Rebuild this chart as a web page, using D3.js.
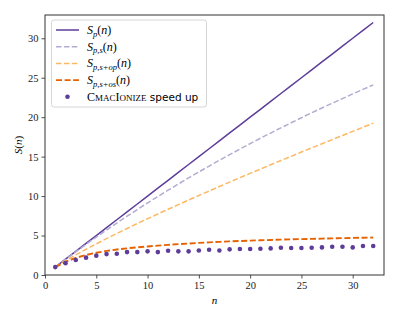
<!DOCTYPE html>
<html>
<head>
<meta charset="utf-8">
<script src="https://cdn.jsdelivr.net/npm/d3@7"></script>
<style>
body { margin: 0; background: #fff; }
text { font-family: "Liberation Serif", "DejaVu Serif", serif; }
</style>
</head>
<body>
<script>
var n = d3.range(1, 33);
var sp = n.slice();
var sps = [1, 1.98, 2.94, 3.88, 4.80, 5.70, 6.58, 7.45, 8.30, 9.13, 9.95, 10.75, 11.53, 12.30, 13.06, 13.81,
    14.54, 15.25, 15.96, 16.65, 17.33, 17.99, 18.65, 19.29, 19.93, 20.56, 21.17, 21.77, 22.36, 22.95, 23.52, 24.09];
var spsop = [1, 1.81, 2.55, 3.26, 3.95, 4.61, 5.26, 5.89, 6.52, 7.13, 7.73, 8.33, 8.92, 9.50, 10.07, 10.64,
    11.21, 11.77, 12.33, 12.88, 13.42, 13.97, 14.51, 15.04, 15.58, 16.11, 16.63, 17.16, 17.68, 18.20, 18.72, 19.23];
var spsos = [1, 1.68, 2.17, 2.54, 2.82, 3.05, 3.23, 3.38, 3.51, 3.62, 3.72, 3.82, 3.91, 3.99, 4.07, 4.14,
    4.20, 4.26, 4.31, 4.36, 4.40, 4.44, 4.48, 4.52, 4.55, 4.58, 4.61, 4.64, 4.67, 4.70, 4.72, 4.75];
var measured = [1.0, 1.5, 1.9, 2.2, 2.45, 2.65, 2.7, 2.9, 2.9, 3.0, 2.9, 3.08, 3.0, 3.0, 3.1, 3.2,
    3.1, 3.25, 3.3, 3.3, 3.33, 3.37, 3.45, 3.42, 3.42, 3.45, 3.5, 3.58, 3.58, 3.5, 3.67, 3.67];
var xTicks = [0, 5, 10, 15, 20, 25, 30];
var yTicks = [0, 5, 10, 15, 20, 25, 30];

var W = 399, H = 319;
var m = {left: 45, right: 15, top: 15, bottom: 44};
var serif = '"Liberation Serif", "DejaVu Serif", serif';

var svg = d3.select('body').append('svg')
    .attr('width', W)
    .attr('height', H);

var x = d3.scaleLinear().domain([0, 33.05]).range([m.left, W - m.right]);
var y = d3.scaleLinear().domain([0, 32.95]).range([H - m.bottom, m.top]);

// axes
var xAxis = svg.append('g')
    .attr('transform', 'translate(0,' + (H - m.bottom) + ')')
    .call(d3.axisBottom(x).tickValues(xTicks).tickSize(3.5).tickPadding(3));
var yAxis = svg.append('g')
    .attr('transform', 'translate(' + m.left + ',0)')
    .call(d3.axisLeft(y).tickValues(yTicks).tickSize(3.5).tickPadding(3));
[xAxis, yAxis].forEach(function(a) {
    a.attr('font-family', serif).attr('font-size', 10.5);
    a.select('.domain').remove();
    a.selectAll('line').attr('stroke', '#222').attr('stroke-width', 0.8);
    a.selectAll('text').attr('fill', '#222');
});

var lines = [
    {vals: sp, color: '#5e3c99', dash: null, w: 1.5},
    {vals: sps, color: '#b2abd2', dash: '5.5,2.4', w: 1.5},
    {vals: spsop, color: '#fdb863', dash: '5.5,2.4', w: 1.5},
    {vals: spsos, color: '#e66101', dash: '6,2.6', w: 1.9}
];
var line = d3.line().x(function(d, i) { return x(n[i]); }).y(function(d) { return y(d); });
lines.forEach(function(l) {
    svg.append('path')
        .attr('d', line(l.vals))
        .attr('fill', 'none')
        .attr('stroke', l.color)
        .attr('stroke-width', l.w)
        .attr('stroke-dasharray', l.dash);
});

svg.selectAll('.dot').data(measured).enter().append('circle')
    .attr('cx', function(d, i) { return x(n[i]); })
    .attr('cy', function(d) { return y(d); })
    .attr('r', 2.3)
    .attr('fill', '#5e3c99');

// frame
svg.append('rect')
    .attr('x', m.left).attr('y', m.top)
    .attr('width', W - m.left - m.right)
    .attr('height', H - m.top - m.bottom)
    .attr('fill', 'none')
    .attr('stroke', '#333')
    .attr('stroke-width', 1);

// axis labels
svg.append('text')
    .attr('x', (m.left + W - m.right) / 2).attr('y', 304)
    .attr('text-anchor', 'middle').attr('font-size', 11).attr('font-style', 'italic')
    .text('n');
var yl = svg.append('text')
    .attr('transform', 'translate(22,' + ((m.top + H - m.bottom) / 2) + ') rotate(-90)')
    .attr('text-anchor', 'middle').attr('font-size', 11);
yl.append('tspan').attr('font-style', 'italic').text('S');
yl.append('tspan').text('(');
yl.append('tspan').attr('font-style', 'italic').text('n');
yl.append('tspan').text(')');

// legend
var leg = svg.append('g');
leg.append('rect')
    .attr('x', 51.5).attr('y', 20)
    .attr('width', 155).attr('height', 87)
    .attr('rx', 2.5)
    .attr('fill', '#fff').attr('fill-opacity', 0.8)
    .attr('stroke', '#ccc').attr('stroke-width', 0.8);

var subs = ['p', 'p,s', 'p,s+op', 'p,s+os'];
var ly = [30, 46.7, 63.4, 80.1, 96.8];
lines.forEach(function(l, i) {
    leg.append('line')
        .attr('x1', 56).attr('x2', 79)
        .attr('y1', ly[i]).attr('y2', ly[i])
        .attr('stroke', l.color).attr('stroke-width', l.w)
        .attr('stroke-dasharray', l.dash);
    var t = leg.append('text').attr('x', 87).attr('y', ly[i] + 4).attr('font-size', 12);
    t.append('tspan').attr('font-style', 'italic').text('S');
    t.append('tspan').attr('font-style', 'italic').attr('font-size', 8.5).attr('dy', 2.5).text(subs[i]);
    t.append('tspan').attr('dy', -2.5).text('(');
    t.append('tspan').attr('font-style', 'italic').text('n');
    t.append('tspan').text(')');
});
leg.append('circle').attr('cx', 67.5).attr('cy', ly[4]).attr('r', 2.3).attr('fill', '#5e3c99');
var ct = leg.append('text').attr('x', 87).attr('y', ly[4] + 4).attr('font-size', 12);
ct.append('tspan').text('C');
ct.append('tspan').attr('font-size', 9).text('MAC');
ct.append('tspan').text('I');
ct.append('tspan').attr('font-size', 9).text('ONIZE');
ct.append('tspan').attr('font-size', 10.5)
    .style('font-family', '"DejaVu Sans", sans-serif').text(' speed up');
</script>
</body>
</html>
